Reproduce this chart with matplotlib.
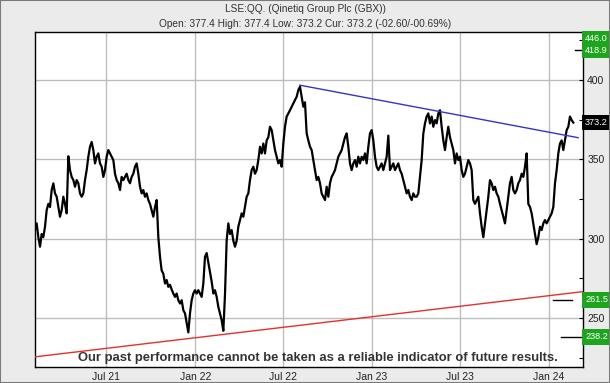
import matplotlib
matplotlib.use("Agg")
import matplotlib.pyplot as plt
from matplotlib import font_manager
from matplotlib.patches import Rectangle
import pandas as pd
import numpy as np

# ---------------- data ----------------
title = "LSE:QQ. (Qinetiq Group Plc (GBX))"
subtitle = "Open: 377.4 High: 377.4 Low: 373.2 Cur: 373.2 (-02.60/-00.69%)"
disclaimer = "Our past performance cannot be taken as a reliable indicator of future results."

start_date = "2021-02-04"
end_date = "2024-02-21"
close = [
    305.5, 309.7, 301, 295, 303, 301, 307.6, 318, 322, 320, 330.7, 334.9, 328.6, 326.5, 320, 313.9,
    318, 326.5, 322, 316, 352, 343.3, 339, 337, 332.8, 337, 335, 328.6, 326.5, 328.6, 337, 343.3,
    351.7, 358, 361, 355.9, 347.5, 351.7, 353.8, 347.5, 345.4, 339, 343.3, 351.7, 355.9, 353.8,
    351.7, 349.6, 341, 337, 335, 330.7, 339, 337, 339, 341, 337, 335, 339, 341, 345.4, 347.5, 341,
    332.8, 328.6, 330.7, 326.5, 328.6, 324.4, 322, 318, 313.9, 320, 324.4, 301, 288.7, 280, 278,
    271.8, 274, 269.7,
    271, 268, 265.5, 263.4, 265.5, 261.3, 259.2, 261.3, 255, 253, 246.8, 241, 253, 261.3, 265.5,
    267.6, 265.5, 267.6, 265.5, 263.4, 271.8, 288.7, 291, 285, 279, 273, 265.5, 267.6, 263.4, 257.1,
    253, 248.7, 242, 265, 299, 309.7, 303, 305.5, 298.8, 295, 298.8, 307.6, 311.8, 316, 313.9, 320,
    326.5, 328.6, 337, 343.3, 345.4, 341, 343.3, 349.6, 358, 353.8, 360, 353.8, 362, 364, 370.6,
    368.5, 362, 355.9, 351.7, 347.5, 349.6, 345.4, 360, 370.6, 377, 379, 381, 383.2, 385.3, 387.4,
    389.5, 393.7, 395.8, 389.5, 383.2,
    386, 366.4, 362, 358, 355.9, 349.6, 343.3, 337, 339, 335, 328.6, 326.5, 324.4, 332.8, 326.5, 335,
    339, 341, 343.3, 347.5, 351.7, 353.8, 355.9, 360, 364, 366.4, 358, 347.5, 343.3, 347.5, 349.6,
    345.4, 351.7, 347.5, 351.7, 349.6, 353.8, 347.5, 358, 366.4, 368.5, 362, 351.7, 345.4, 343.3,
    345.4, 347.5, 343.3, 347.5, 351.7, 365, 343.3, 345.4, 347.5, 343.3, 345.4, 347.5, 343.3, 341,
    337, 332.8, 328.6, 330.7, 326.5, 324.4, 328.6, 326.5, 326.5, 328.6, 339, 349.6, 366.4, 372.7,
    377, 379, 372.7, 377, 370.6, 374.8, 372.7, 379,
    381, 370.6, 362, 355.9, 364, 370.6, 364, 360, 355.9, 347.5, 353.8, 349.6, 351.7, 343.3, 339,
    341, 345.4, 349.6, 347.5, 343.3, 324.4, 322, 324.4, 326.5, 316, 307.6, 301, 309.7, 318, 326.5,
    337, 335, 330.7, 332.8, 328.6, 326.5, 322, 318, 313.9, 309.7, 318, 326.5, 335, 339, 330.7,
    328.6, 330.7, 335, 337, 341, 339, 345.4, 353.8, 322, 320, 316, 309.7, 303, 296.6, 301, 307.6,
    305.5, 309.7, 311.8, 309.7, 311.8, 313.9, 316, 320, 335, 343.3, 353.8, 360, 362, 355.9, 362,
    368.5, 370.6, 377, 374.8, 373.2,
]

# trend lines (date, value)
blue_dates = ["2022-08-05", "2024-03-02"]
blue_values = [396.8, 363.7]
red_dates = ["2021-02-04", "2024-03-12"]
red_values = [225.6, 266.7]

# price targets shown at the right
target_levels = [418.9, 261.5, 238.2]
target_starts = ["2024-02-24", "2024-01-10", "2024-01-27"]
target_ends = ["2024-03-12", "2024-02-18", "2024-03-12"]

# right-hand labels
label_values = [446.0, 418.9, 373.2, 261.5, 238.2]
label_texts = ["446.0", "418.9", "373.2", "261.5", "238.2"]
label_colors = ["#1ea51e", "#1ea51e", "#000000", "#1ea51e", "#1ea51e"]

y_ticks = [250, 300, 350, 400]
x_tick_dates = ["2021-07-01", "2022-01-01", "2022-07-01", "2023-01-01", "2023-07-01", "2024-01-01"]
x_tick_labels = ["Jul 21", "Jan 22", "Jul 22", "Jan 23", "Jul 23", "Jan 24"]
x_limits = ["2021-02-04", "2024-03-12"]
y_limits = [219.2, 430.3]

# ---------------- fonts ----------------
names = {f.name for f in font_manager.fontManager.ttflist}
base_font = "Liberation Sans" if "Liberation Sans" in names else "DejaVu Sans"
narrow_font = "Liberation Sans Narrow" if "Liberation Sans Narrow" in names else base_font
plt.rcParams["font.family"] = [base_font, "DejaVu Sans"]

W, H = 610, 383
fig = plt.figure(figsize=(W / 100, H / 100), dpi=100, facecolor="#ebebeb")

# outer frame
fig.patches.append(Rectangle((0, 0), 1, 1, transform=fig.transFigure, fill=False,
                             edgecolor="#7a7a7a", linewidth=1.5))

L, R, T, B = 35, 583, 32, 367
ax = fig.add_axes([L / W, (H - B) / H, (R - L) / W, (B - T) / H])
ax.set_facecolor("white")

dates = pd.date_range(start_date, end_date, periods=len(close))
ax.plot(dates, close, color="black", linewidth=1.6, zorder=3)

ax.plot(pd.to_datetime(blue_dates), blue_values, color="#3333cc", linewidth=1.0, zorder=4)
ax.plot(pd.to_datetime(red_dates), red_values, color="#e8302a", linewidth=1.0, zorder=4)

for lv, s, e in zip(target_levels, target_starts, target_ends):
    ax.plot(pd.to_datetime([s, e]), [lv, lv], color="black", linewidth=1.0, zorder=4)

ax.set_xlim(pd.to_datetime(x_limits[0]), pd.to_datetime(x_limits[1]))
ax.set_ylim(*y_limits)

ax.set_xticks(pd.to_datetime(x_tick_dates))
ax.set_xticklabels(x_tick_labels, fontsize=7.5, color="#222222")
ax.tick_params(axis="x", length=0, pad=3.5)

ax.yaxis.tick_right()
ax.set_yticks(y_ticks)
ax.set_yticklabels([str(v) for v in y_ticks], fontsize=7.5, color="#222222")
ax.set_yticks(np.arange(225, 430, 25), minor=True)
ax.tick_params(axis="y", which="both", direction="in", length=3, width=0.8, pad=3)

ax.grid(True, which="major", color="#bdbdbd", linewidth=1.0, zorder=0)
for sp in ax.spines.values():
    sp.set_color("black")
    sp.set_linewidth(1.0)

# right labels (boxes run to the figure edge)
ytr = ax.get_ylim()
for v, t, c in zip(label_values, label_texts, label_colors):
    yv = min(v, ytr[1] - 4.2)
    ax.text(1.004, yv, t, transform=ax.get_yaxis_transform(), fontsize=6.6, color="white",
            va="center", ha="left", clip_on=False, zorder=6,
            bbox=dict(boxstyle="square,pad=0.35", facecolor=c, edgecolor="none"))

# titles
fig.text(0.5, 1 - 8.6 / H, title, ha="center", va="center", fontsize=7.3, color="#333333")
fig.text(0.5, 1 - 24 / H, subtitle, ha="center", va="center", fontsize=7.3, color="#333333")

# disclaimer, sized to span the same width
disc = fig.text(317.5 / W, 1 - 357.5 / H, disclaimer, ha="center", va="center",
                fontsize=11, fontweight="bold", color="#333333", family=[narrow_font, "DejaVu Sans"],
                zorder=10)
fig.canvas.draw()
r = fig.canvas.get_renderer()
w = disc.get_window_extent(r).width
disc.set_fontsize(11 * 481 / w)

fig.savefig("out.png", dpi=100, facecolor=fig.get_facecolor())
